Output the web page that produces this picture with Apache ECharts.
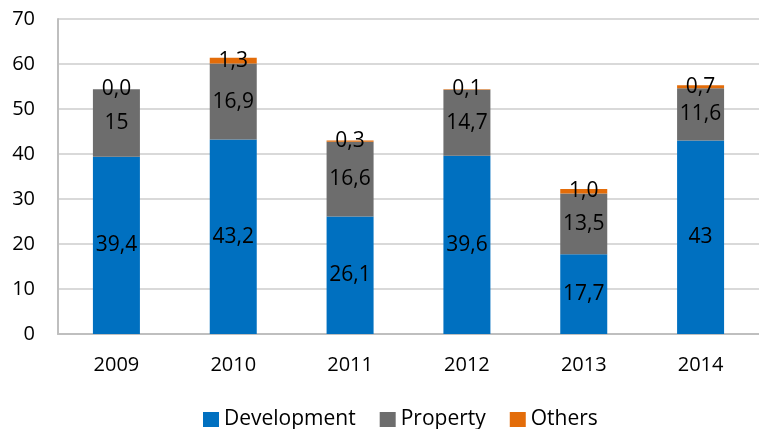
<!DOCTYPE html>
<html><head><meta charset="utf-8">
<script src="https://cdn.jsdelivr.net/npm/echarts@6/dist/echarts.min.js"></script>
<style>html,body{margin:0;padding:0;background:#fff}#c{width:759px;height:429px}</style>
</head><body><div id="c"></div>
<script>
const categories = ["2009","2010","2011","2012","2013","2014"];
const development = [39.4, 43.2, 26.1, 39.6, 17.7, 43];
const property = [15, 16.9, 16.6, 14.7, 13.5, 11.6];
const others = [0.0, 1.3, 0.3, 0.1, 1.0, 0.7];
const developmentLabels = ["39,4","43,2","26,1","39,6","17,7","43"];
const propertyLabels = ["15","16,9","16,6","14,7","13,5","11,6"];
const othersLabels = ["0,0","1,3","0,3","0,1","1,0","0,7"];
const yTicks = [0,10,20,30,40,50,60,70];

const font = "'Open Sans', sans-serif";
function mk(name, vals, labels, color){
  return {
    name, type:'bar', stack:'s', barWidth:47, data: vals,
    itemStyle:{color},
    label:{show:true, position:'inside', color:'#000', fontFamily:font, fontSize:21,
      formatter: p => labels[p.dataIndex]}
  };
}
const chart = echarts.init(document.getElementById('c'), null, {renderer:'canvas'});
chart.setOption({
  animation:false,
  textStyle:{fontFamily:font},
  grid:{left:58, top:19, width:708, height:315, containLabel:false},
  legend:{top:404, left:198, padding:5, itemWidth:16, itemHeight:15, itemGap:24,
    textStyle:{fontFamily:font, fontSize:21, color:'#000'},
    icon:'rect', data:['Development','Property','Others']},
  xAxis:{type:'category', data:categories,
    axisLine:{lineStyle:{color:'#BFBFBF', width:2}}, axisTick:{show:false},
    axisLabel:{fontFamily:font, fontSize:20, color:'#000', margin:21}},
  yAxis:{type:'value', min:yTicks[0], max:yTicks[yTicks.length-1], interval:10,
    axisLine:{show:true, lineStyle:{color:'#BFBFBF', width:2}}, axisTick:{show:false},
    splitLine:{lineStyle:{color:'#D9D9D9', width:2}},
    axisLabel:{fontFamily:font, fontSize:20, color:'#000', margin:23}},
  series:[
    mk('Development', development, developmentLabels, '#0070C0'),
    mk('Property', property, propertyLabels, '#6D6D6D'),
    mk('Others', others, othersLabels, '#E36C09')
  ]
});
</script></body></html>
